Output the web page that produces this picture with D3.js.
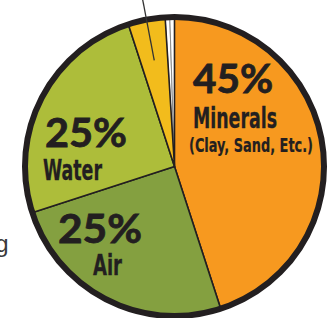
<!DOCTYPE html>
<html>
<head>
<meta charset="utf-8">
<script src="https://cdn.jsdelivr.net/npm/d3@7"></script>
<style>
	html, body { margin: 0; padding: 0; background: #fff; }
	svg { display: block; }
</style>
</head>
<body>
<div id="chart"></div>
<script>

// soil composition, percent
let categories = ['Minerals', 'Air', 'Water', 'Organic matter', 'Roots', 'Organisms'];
let values = [45, 25, 25, 4, 0.5, 0.5];
let colors = ['#f7991f', '#84a040', '#adbd3a', '#f2bc1c', '#ffffff', '#ffffff'];

let width = 336;
let height = 318;
let cx = 174.5;
let cy = 166.5;
let radius = 149;
let ink = '#231f20';

let svg = d3.select('#chart')
	.append('svg')
		.attr('width', width)
		.attr('height', height);

let pie = d3.pie()
	.sort(null)
	.value(function(d) { return d; });

let arcs = pie(values);

let arc = d3.arc()
	.innerRadius(0)
	.outerRadius(radius);

let g = svg.append('g')
	.attr('transform', `translate(${cx}, ${cy})`);

// thin white slices first, so the dark borders sit on top
g.selectAll('path.small')
	.data(arcs.filter(function(d) { return d.index > 3; }))
	.enter().append('path')
		.attr('class', 'small')
		.attr('d', arc)
		.attr('fill', function(d) { return colors[d.index]; })
		.attr('stroke', '#8a8a8a')
		.attr('stroke-width', 1);

g.selectAll('path.main')
	.data(arcs.filter(function(d) { return d.index <= 3; }))
	.enter().append('path')
		.attr('class', 'main')
		.attr('d', arc)
		.attr('fill', function(d) { return colors[d.index]; })
		.attr('stroke', ink)
		.attr('stroke-width', 1.6)
		.attr('stroke-linejoin', 'round');

// outer ring
g.append('circle')
	.attr('r', radius + 0.5)
	.attr('fill', 'none')
	.attr('stroke', ink)
	.attr('stroke-width', 6);

// leader line out of the organic matter slice
let om = arcs[3];
let mid = (om.startAngle + om.endAngle) / 2;
g.append('line')
	.attr('x1', Math.sin(mid) * 108)
	.attr('y1', -Math.cos(mid) * 108)
	.attr('x2', Math.sin(mid) * 172)
	.attr('y2', -Math.cos(mid) * 172)
	.attr('stroke', '#333')
	.attr('stroke-width', 1.3);

// labels
let big = 'Lato, "Open Sans", "DejaVu Sans", sans-serif';
let narrow = '"DejaVu Sans Condensed", "Liberation Sans Narrow", "Liberation Sans", sans-serif';

let labels = [
	{ text: '45%', x: 193, y: 93, w: 80, size: 40, font: big, heavy: 0.8 },
	{ text: 'Minerals', x: 193, y: 128, w: 84, size: 28, font: narrow, heavy: 0.3 },
	{ text: '(Clay, Sand, Etc.)', x: 189, y: 152, w: 124, size: 20, font: narrow, heavy: 0.2 },
	{ text: '25%', x: 45, y: 147, w: 82, size: 41, font: big, heavy: 0.8 },
	{ text: 'Water', x: 43, y: 180, w: 59, size: 28, font: narrow, heavy: 0.3 },
	{ text: '25%', x: 58, y: 243, w: 84, size: 41, font: big, heavy: 0.8 },
	{ text: 'Air', x: 93, y: 275, w: 29, size: 28, font: narrow, heavy: 0.3 }
];

svg.selectAll('text.label')
	.data(labels)
	.enter().append('text')
		.attr('class', 'label')
		.attr('x', function(d) { return d.x; })
		.attr('y', function(d) { return d.y; })
		.attr('textLength', function(d) { return d.w; })
		.attr('lengthAdjust', 'spacingAndGlyphs')
		.style('font-family', function(d) { return d.font; })
		.style('font-size', function(d) { return d.size + 'px'; })
		.style('font-weight', 'bold')
		.attr('fill', ink)
		.attr('stroke', ink)
		.attr('stroke-width', function(d) { return d.heavy; })
		.text(function(d) { return d.text; });

// cut-off caption at the left edge
svg.append('text')
	.attr('x', 8.5)
	.attr('y', 252)
	.attr('text-anchor', 'end')
	.style('font-family', '"Liberation Sans Narrow", "Liberation Sans", sans-serif')
	.style('font-size', '24px')
	.attr('fill', '#3a3a3a')
	.text('g');

</script>
</body>
</html>
